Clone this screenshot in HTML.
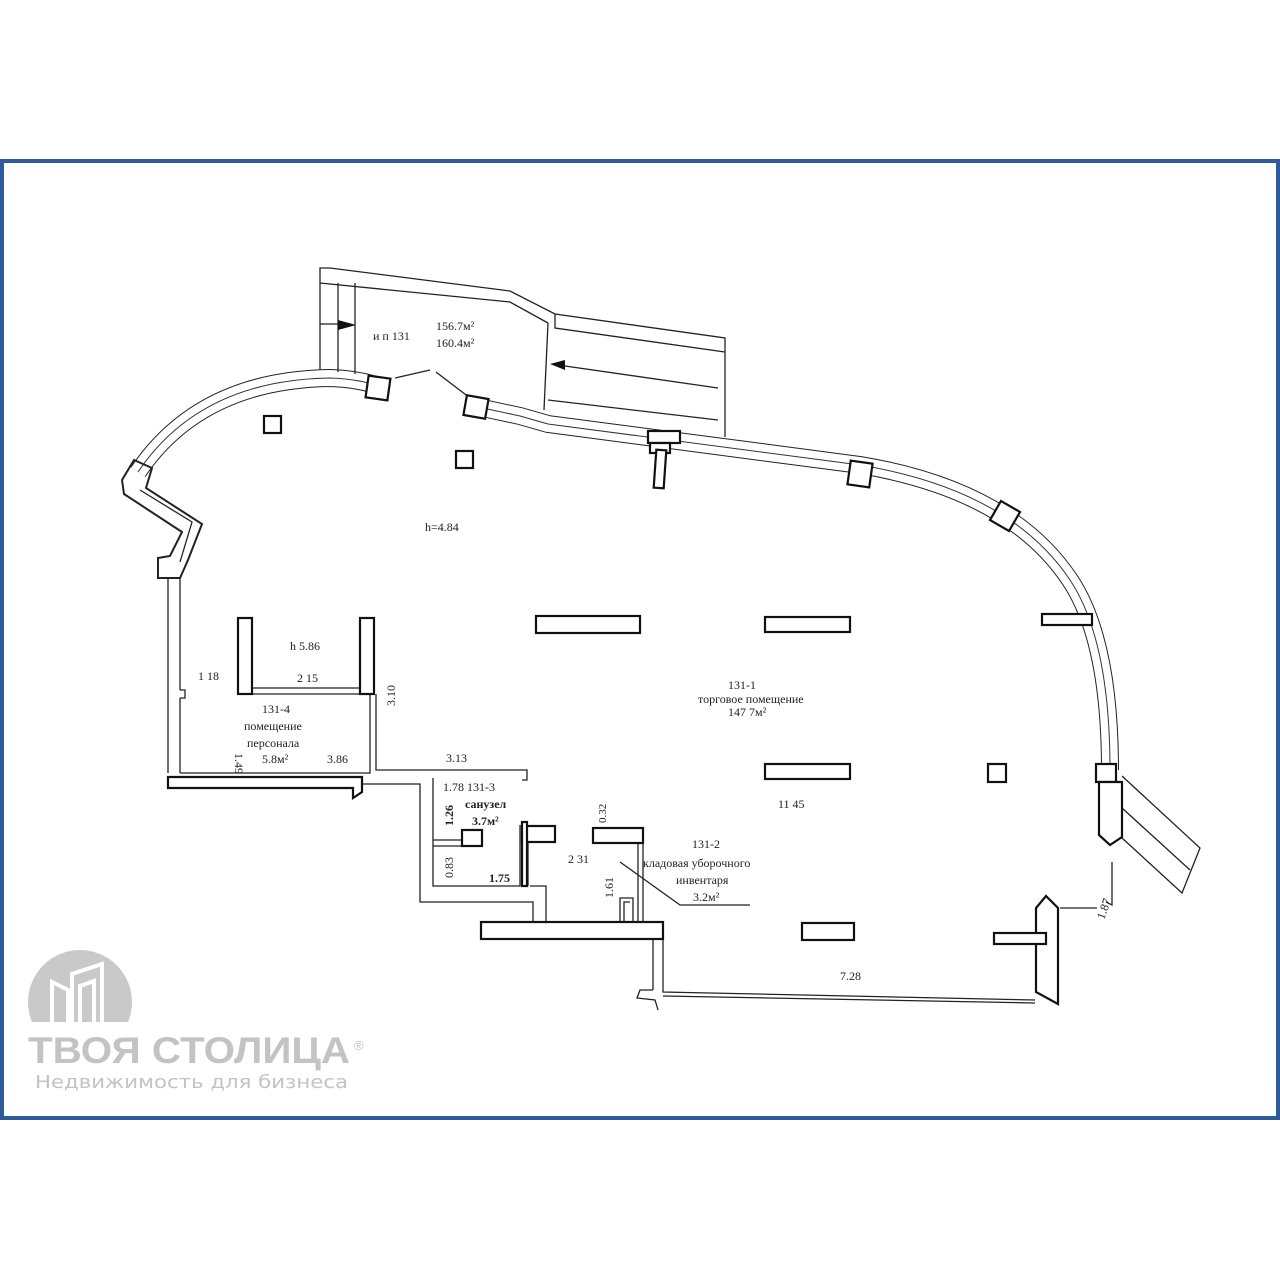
<!DOCTYPE html>
<html><head><meta charset="utf-8"><style>
html,body{margin:0;padding:0;background:#fff;}
svg{display:block;}
text{font-family:"Liberation Serif","DejaVu Serif",serif;fill:#222;}
</style></head><body>
<svg width="1280" height="1280" viewBox="0 0 1280 1280" xmlns="http://www.w3.org/2000/svg">
<rect x="0" y="0" width="1280" height="1280" fill="#fff"/>
<rect x="2" y="161" width="1276" height="957" fill="none" stroke="#2f5a9c" stroke-width="4"/>

<!-- logo -->
<g>
<clipPath id="cc"><rect x="0" y="930" width="200" height="92"/></clipPath>
<circle cx="80" cy="1002" r="52" fill="#c9c9c9" clip-path="url(#cc)"/>
<g fill="none" stroke="#fff" stroke-width="4">
<path d="M52,1022 V982 L68,990 V1022"/><path d="M72,1022 V974 L102,964 V1022"/><path d="M80,1022 V986 L94,981 V1022"/>
</g>
<text x="28" y="1063" textLength="322" lengthAdjust="spacingAndGlyphs" style="font-family:'Liberation Sans','DejaVu Sans',sans-serif;font-weight:bold;font-size:37px;fill:#c3c3c3">ТВОЯ СТОЛИЦА</text>
<text x="354" y="1050" style="font-family:'Liberation Sans',sans-serif;font-size:13px;fill:#c3c3c3">®</text>
<text x="35" y="1088" textLength="313" lengthAdjust="spacingAndGlyphs" style="font-family:'DejaVu Sans','Liberation Sans',sans-serif;font-size:18px;fill:#c3c3c3">Недвижимость для бизнеса</text>
</g>

<!-- double walls -->
<g fill="none" stroke-linejoin="round">
<g stroke="#222" stroke-width="18">
<path d="M138,472 Q200,380 330,378 Q360,379 381,387"/>
<path d="M478,407 L520,416 L548,424 L860,465 Q1010,490 1070,580 Q1110,640 1110,770"/>
</g>
<g stroke="#fff" stroke-width="16">
<path d="M138,472 Q200,380 330,378 Q360,379 381,387"/>
<path d="M478,407 L520,416 L548,424 L860,465 Q1010,490 1070,580 Q1110,640 1110,770"/>
</g>
<g stroke="#333" stroke-width="1">
<path d="M138,472 Q200,380 330,378 Q360,379 381,387"/>
<path d="M478,407 L520,416 L548,424 L860,465 Q1010,490 1070,580 Q1110,640 1110,770"/>
</g>
</g>

<g fill="none" stroke="#222" stroke-width="1.3">
<path d="M320,370 V268 L330,268 L510,291 L555,314 L725,338 V437"/>
<path d="M320,283 L510,302 L548,323"/>
<path d="M555,314 V328 L725,352"/>
<path d="M338,283 V372 M355,283 V374"/>
<path d="M320,324 H338"/>
<path d="M548,323 L544,410"/>
<path d="M558,365 L718,388"/>
<path d="M548,400 L718,420"/>
<path d="M395,378 L430,370 M436,372 L470,398"/>
<path d="M122,480 L134,460 L152,468 L146,488 L202,524 L188,560 L180,578 L158,578 L158,558 L170,556 L182,532 L124,494 Z" stroke-width="2"/>
<path d="M140,490 L192,522 L180,562"/>
<path d="M168,578 V773 M180,578 V690 M180,698 V773"/>
<path d="M180,690 H185 V698 H180"/>
<path d="M252,688 H360 M252,694 H360"/>
<path d="M180,773 H370 V694"/>
<path d="M376,694 V770 H527 V780 H522"/>
<path d="M362,784 H420 V902 H533 V921"/>
<path d="M546,921 V886 H530"/>
<path d="M433,778 V886 H520 V825"/>
<path d="M433,840 H462 M433,846 H462"/>
<path d="M528,842 V886"/>
<path d="M638,843 V922 M643,843 V922"/>
<path d="M620,922 V898 H633 V922 M624,922 V902 H630"/>
<path d="M620,862 L680,905 H750"/>
<path d="M653,940 V990 M663,940 V992 L1035,1000 M663,996 L1035,1003"/>
<path d="M653,990 L640,990 L637,998 L655,1000 L658,1010"/>
<path d="M1112,862 V905 L1106,902 M1060,908 H1097"/>
<path d="M1122,776 L1200,848 L1182,893 L1122,838 M1122,808 L1190,870"/>
</g>

<g fill="#fff" stroke="#111" stroke-width="2.2">
<rect x="367" y="377" width="22" height="22" transform="rotate(8 378 388)"/>
<rect x="465" y="397" width="22" height="20" transform="rotate(10 476 407)"/>
<rect x="264" y="416" width="17" height="17"/>
<rect x="456" y="451" width="17" height="17"/>
<rect x="648" y="431" width="32" height="12"/>
<rect x="650" y="443" width="20" height="10"/>
<rect x="655" y="450" width="10" height="38" transform="rotate(4 660 469)"/>
<rect x="849" y="462" width="22" height="24" transform="rotate(8 860 474)"/>
<rect x="994" y="505" width="22" height="22" transform="rotate(30 1005 516)"/>
<rect x="1042" y="614" width="50" height="11"/>
<rect x="988" y="764" width="18" height="18"/>
<rect x="1096" y="764" width="20" height="18"/>
<path d="M1100,782 H1122 V837 L1110,845 L1099,835 V782 Z"/>
<path d="M1036,992 V908 L1046,896 L1058,908 V1004 Z"/>
<rect x="994" y="933" width="52" height="11"/>
<rect x="536" y="616" width="104" height="17"/>
<rect x="765" y="617" width="85" height="15"/>
<rect x="765" y="764" width="85" height="15"/>
<rect x="802" y="923" width="52" height="17"/>
<rect x="238" y="618" width="14" height="76"/>
<rect x="360" y="618" width="14" height="76"/>
<path d="M168,777 H362 V792 L353,798 V788 H168 Z"/>
<rect x="462" y="830" width="20" height="16"/>
<rect x="522" y="826" width="33" height="16"/>
<rect x="522" y="822" width="5" height="64"/>
<rect x="593" y="828" width="50" height="15"/>
<rect x="481" y="922" width="182" height="17"/>
</g>

<path d="M338,320 L356,325 L338,330 Z" fill="#111"/>
<path d="M565,360 L550,364 L565,370 Z" fill="#111"/>

<g font-size="12">
<text x="373" y="340">и п 131</text>
<text x="436" y="330">156.7м²</text>
<text x="436" y="347">160.4м²</text>
<text x="425" y="531">h=4.84</text>
<text x="290" y="650">h 5.86</text>
<text x="198" y="680">1 18</text>
<text x="297" y="682">2 15</text>
<text x="262" y="713">131-4</text>
<text x="244" y="730">помещение</text>
<text x="247" y="747">персонала</text>
<text x="262" y="763">5.8м²</text>
<text x="327" y="763">3.86</text>
<text x="446" y="762">3.13</text>
<text x="443" y="791">1.78 131-3</text>
<text x="465" y="808" font-weight="bold">санузел</text>
<text x="472" y="825" font-weight="bold">3.7м²</text>
<text x="489" y="882" font-weight="bold">1.75</text>
<text x="568" y="863">2 31</text>
<text x="728" y="689">131-1</text>
<text x="698" y="703">торговое помещение</text>
<text x="728" y="716">147 7м²</text>
<text x="778" y="808">11 45</text>
<text x="692" y="848">131-2</text>
<text x="643" y="867">кладовая уборочного</text>
<text x="676" y="884">инвентаря</text>
<text x="693" y="901">3.2м²</text>
<text x="840" y="980">7.28</text>
<text transform="translate(395,706) rotate(-90)">3.10</text>
<text transform="translate(235,753) rotate(90)">1.49</text>
<text transform="translate(453,826) rotate(-90)" font-weight="bold">1.26</text>
<text transform="translate(453,878) rotate(-90)">0.83</text>
<text transform="translate(606,823) rotate(-90)" font-size="11">0.32</text>
<text transform="translate(613,898) rotate(-90)">1.61</text>
<text transform="translate(1104,920) rotate(-70)">1.87</text>
</g>
</svg>
</body></html>
